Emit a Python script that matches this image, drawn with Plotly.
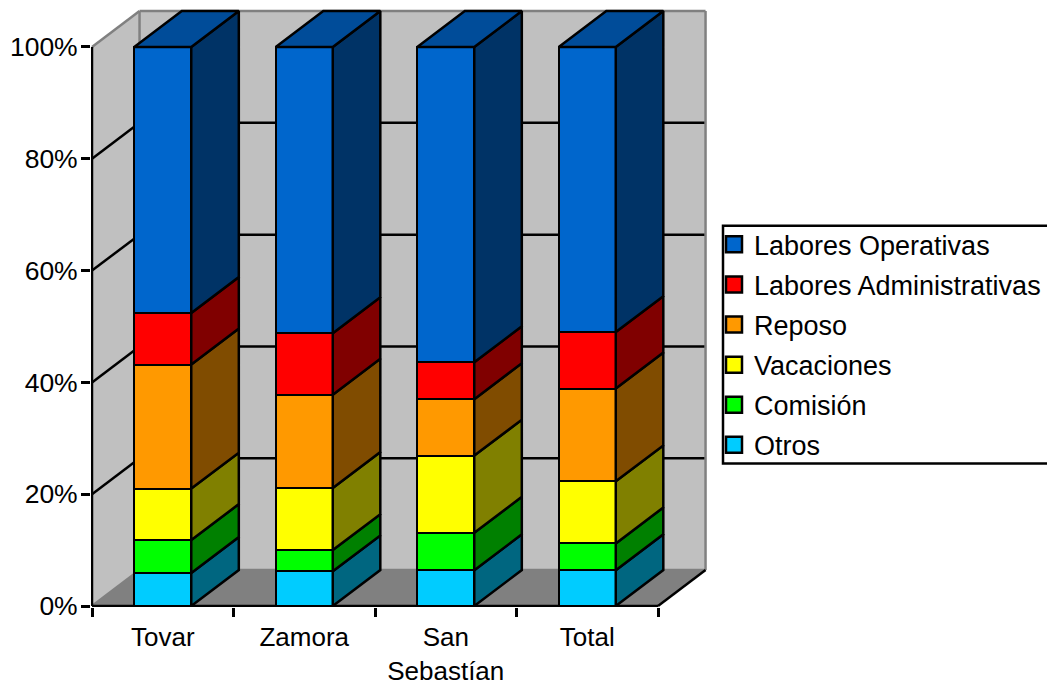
import plotly.graph_objects as go

categories = ["Tovar", "Zamora", "San<br>Sebastían", "Total"]
series_names = ["Otros", "Comisión", "Vacaciones", "Reposo", "Labores Administrativas", "Labores Operativas"]
otros = [5.9, 6.2, 6.4, 6.4]
comision = [5.9, 3.8, 6.7, 4.8]
vacaciones = [9.2, 11.1, 13.8, 11.1]
reposo = [22.2, 16.7, 10.1, 16.6]
administrativas = [9.2, 11.0, 6.6, 10.1]
operativas = [47.6, 51.2, 56.4, 51.0]
series_values = [otros, comision, vacaciones, reposo, administrativas, operativas]
front_colors = ["#00CCFF", "#00FF00", "#FFFF00", "#FF9900", "#FF0000", "#0066CC"]
side_colors = ["#006680", "#008000", "#808000", "#804C00", "#800000", "#003366"]
top_color = "#004C99"
y_ticks = [0, 20, 40, 60, 80, 100]

BAR_W = 0.403
DX = 0.336          # depth offset, category units
DY = 6.43           # depth offset, percent units
LW = 2.5
GREY = "#808080"
WALL = "#C0C0C0"
FONT = "Liberation Sans, Arial, sans-serif"
n = len(categories)
xpos = [i + 0.5 for i in range(n)]

fig = go.Figure()

# front faces
for name, vals, col in zip(series_names, series_values, front_colors):
    fig.add_bar(x=xpos, y=vals, width=BAR_W, name=name, showlegend=False,
                marker=dict(color=col, line=dict(color="black", width=LW)))

# side and top faces
for i, xc in enumerate(xpos):
    r = xc + BAR_W / 2
    l = xc - BAR_W / 2
    base = 0
    for vals, col in zip(series_values, side_colors):
        t = base + vals[i]
        fig.add_scatter(x=[r, r + DX, r + DX, r, r], y=[base, base + DY, t + DY, t, base],
                        mode="lines", fill="toself", fillcolor=col, cliponaxis=False,
                        line=dict(color="black", width=LW), showlegend=False, hoverinfo="skip")
        base = t
    fig.add_scatter(x=[l, r, r + DX, l + DX, l], y=[base, base, base + DY, base + DY, base],
                    mode="lines", fill="toself", fillcolor=top_color, cliponaxis=False,
                    line=dict(color="black", width=LW), showlegend=False, hoverinfo="skip")

# legend entries, top to bottom
for name, col in zip(reversed(series_names), reversed(front_colors)):
    fig.add_scatter(x=[None], y=[None], mode="markers", name=name, legendgroup=name,
                    marker=dict(symbol="square", size=16, color=col, line=dict(color="black", width=LW)))


def poly(pts, fill, **kw):
    d = "M" + " L".join(f"{a},{b}" for a, b in pts) + " Z"
    return dict(type="path", path=d, xref="x", yref="y", fillcolor=fill, line=dict(width=0), layer="below", **kw)


def seg(x0, y0, x1, y1, color, width=LW):
    return dict(type="line", x0=x0, y0=y0, x1=x1, y1=y1, xref="x", yref="y",
                line=dict(color=color, width=width), layer="below")


shapes = [
    poly([(0, 0), (DX, DY), (DX, 100 + DY), (0, 100)], WALL),
    poly([(DX, DY), (n + DX, DY), (n + DX, 100 + DY), (DX, 100 + DY)], WALL),
    poly([(0, 0), (DX, DY), (n + DX, DY), (n, 0)], GREY),
]
for v in y_ticks[1:-1]:
    shapes.append(seg(0, v, DX, v + DY, "black"))
    shapes.append(seg(DX, v + DY, n + DX, v + DY, "black"))
shapes += [
    seg(0, 100, DX, 100 + DY, GREY),
    seg(DX, 100 + DY, n + DX, 100 + DY, GREY),
    seg(DX, DY, DX, 100 + DY, GREY),
    seg(n + DX, DY, n + DX, 100 + DY, GREY),
    seg(DX, DY, n + DX, DY, GREY),
    seg(0, 0, DX, DY, GREY),
    seg(n, 0, n + DX, DY, "black"),
    seg(0, 0, 0, 100, "black"),
    seg(0, 0, n, 0, "black"),
]

# legend frame (open at the page edge, as in the reference)
PW, PH = 616, 598.5
shapes.append(dict(type="rect", xref="paper", yref="paper",
                   x0=(723 - 91) / PW, x1=(1060 - 91) / PW,
                   y0=(607.5 - 464) / PH, y1=(607.5 - 226) / PH,
                   fillcolor="white", line=dict(color="black", width=LW), layer="above"))

PXX = 141.5
PXY = 5.595
fig.update_layout(
    width=1047, height=683, autosize=False, barmode="stack", bargap=0,
    paper_bgcolor="white", plot_bgcolor="white",
    margin=dict(l=91, r=1047 - 707, t=9, b=683 - 607.5, autoexpand=False),
    font=dict(family=FONT, size=26.5, color="black"),
    shapes=shapes,
    legend=dict(x=(714 - 91) / PW, xanchor="left", y=(607.5 - 220.5) / PH, yanchor="top",
                traceorder="grouped", tracegroupgap=2, bgcolor="rgba(0,0,0,0)",
                borderwidth=0, font=dict(family=FONT, size=27),
                entrywidth=290, entrywidthmode="pixels", itemclick=False, itemdoubleclick=False),
    xaxis=dict(range=[-1 / PXX, 615 / PXX], tickvals=xpos, ticktext=categories, ticks="",
               showgrid=False, zeroline=False, showline=False, tickfont=dict(size=26),
               ticklabelstandoff=12,
               minor=dict(tickvals=list(range(n + 1)), ticks="outside", ticklen=9, tickwidth=LW,
                          tickcolor="black", showgrid=False)),
    yaxis=dict(range=[-1 / PXY, 597.5 / PXY], tickvals=y_ticks, ticktext=[f"{v}%" for v in y_ticks],
               ticks="outside", ticklen=9, tickwidth=LW, tickcolor="black", ticklabelstandoff=-2,
               showgrid=False, zeroline=False, showline=False, tickfont=dict(size=26.5)),
    hovermode=False,
)

fig.write_html("out.html", config={"displayModeBar": False},
               post_script="document.body.style.margin='0';document.documentElement.style.overflow='hidden';")
